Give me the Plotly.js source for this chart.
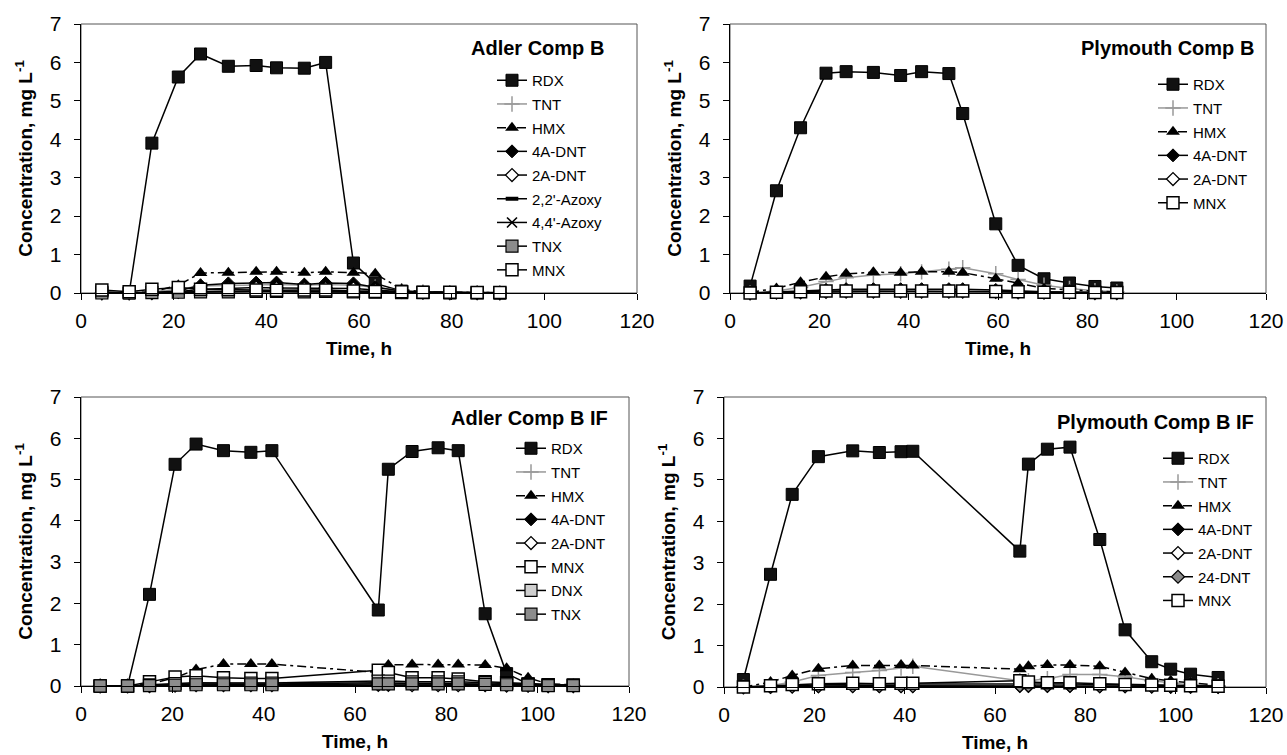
<!DOCTYPE html>
<html>
<head>
<meta charset="utf-8">
<script src="https://cdn.plot.ly/plotly-3.0.1.min.js"></script>
<style>html,body{margin:0;padding:0;background:#fff}#chart{width:1287px;height:755px}</style>
</head>
<body>
<div id="chart"></div>
<script>
// ---------------- DATA ----------------
const panelTitles = ["Adler Comp B", "Plymouth Comp B", "Adler Comp B IF", "Plymouth Comp B IF"];
const xTitle = "Time, h";
const yTitle = "Concentration, mg L<sup>-1</sup>";

// Panel 1: Adler Comp B
const t1 = [4.5, 10.4, 15.3, 21.0, 25.8, 31.8, 37.8, 42.2, 48.2, 52.8, 58.8, 63.5, 69.2, 73.8, 79.6, 85.5, 90.4];
const rdx1 = [0.03, 0.0, 3.9, 5.62, 6.22, 5.9, 5.92, 5.86, 5.85, 6.0, 0.78, 0.25, 0.05, 0.02, 0.01, 0.01, 0.0];
const tnt1 = [0.0, 0.0, 0.03, 0.1, 0.18, 0.2, 0.22, 0.22, 0.2, 0.22, 0.2, 0.15, 0.06, 0.03, 0.01, 0.01, 0.0];
const hmx1 = [0.0, 0.0, 0.03, 0.2, 0.52, 0.53, 0.55, 0.55, 0.53, 0.55, 0.53, 0.5, 0.1, 0.03, 0.02, 0.01, 0.01];
const a4dnt1 = [0.0, 0.0, 0.01, 0.05, 0.2, 0.25, 0.27, 0.27, 0.22, 0.26, 0.25, 0.15, 0.05, 0.02, 0.01, 0.0, 0.0];
const a2dnt1 = [0.0, 0.0, 0.0, 0.03, 0.1, 0.12, 0.14, 0.13, 0.12, 0.13, 0.12, 0.08, 0.03, 0.01, 0.0, 0.0, 0.0];
const azoxy22 = [0.0, 0.0, 0.0, 0.01, 0.04, 0.05, 0.05, 0.05, 0.05, 0.05, 0.05, 0.04, 0.02, 0.01, 0.0, 0.0, 0.0];
const azoxy44 = [0.0, 0.0, 0.0, 0.01, 0.03, 0.04, 0.04, 0.04, 0.03, 0.04, 0.04, 0.03, 0.01, 0.0, 0.0, 0.0, 0.0];
const tnx1 = [0.0, 0.0, 0.01, 0.02, 0.03, 0.03, 0.04, 0.04, 0.03, 0.04, 0.03, 0.02, 0.01, 0.01, 0.0, 0.0, 0.0];
const mnx1 = [0.08, 0.03, 0.1, 0.14, 0.1, 0.09, 0.08, 0.07, 0.08, 0.08, 0.05, 0.04, 0.03, 0.02, 0.02, 0.01, 0.01];

// Panel 2: Plymouth Comp B
const t2 = [4.5, 10.4, 15.8, 21.5, 26.0, 32.1, 38.2, 42.9, 49.0, 52.1, 59.5, 64.5, 70.3, 76.0, 81.7, 86.6];
const rdx2 = [0.18, 2.66, 4.3, 5.72, 5.76, 5.74, 5.66, 5.76, 5.71, 4.67, 1.8, 0.72, 0.37, 0.26, 0.17, 0.13];
const tnt2 = [0.0, 0.05, 0.15, 0.3, 0.4, 0.47, 0.5, 0.55, 0.62, 0.66, 0.5, 0.35, 0.2, 0.12, 0.06, 0.03];
const hmx2 = [0.02, 0.12, 0.28, 0.42, 0.5, 0.54, 0.53, 0.55, 0.55, 0.53, 0.37, 0.25, 0.12, 0.08, 0.05, 0.03];
const a4dnt2 = [0.0, 0.02, 0.05, 0.08, 0.1, 0.1, 0.1, 0.1, 0.1, 0.1, 0.08, 0.05, 0.03, 0.02, 0.01, 0.01];
const a2dnt2 = [0.0, 0.01, 0.02, 0.03, 0.04, 0.04, 0.04, 0.04, 0.04, 0.04, 0.03, 0.02, 0.01, 0.01, 0.0, 0.0];
const mnx2 = [0.0, 0.02, 0.03, 0.05, 0.05, 0.05, 0.05, 0.05, 0.05, 0.05, 0.04, 0.03, 0.02, 0.02, 0.01, 0.01];

// Panel 3: Adler Comp B IF
const t3 = [4.2, 10.2, 15.0, 20.6, 25.2, 31.2, 37.2, 41.8, 65.1, 67.3, 72.5, 78.2, 82.6, 88.5, 93.2, 97.9, 102.3, 107.8];
const rdx3 = [0.0, 0.0, 2.22, 5.37, 5.86, 5.7, 5.66, 5.7, 1.84, 5.25, 5.68, 5.77, 5.7, 1.75, 0.3, 0.05, 0.02, 0.02];
const tnt3 = [0.0, 0.0, 0.02, 0.05, 0.08, 0.08, 0.08, 0.08, 0.1, 0.1, 0.08, 0.08, 0.07, 0.05, 0.04, 0.02, 0.01, 0.01];
const hmx3 = [0.0, 0.0, 0.05, 0.2, 0.4, 0.53, 0.53, 0.53, 0.33, 0.51, 0.52, 0.52, 0.52, 0.51, 0.43, 0.2, 0.05, 0.03];
const a4dnt3 = [0.0, 0.0, 0.01, 0.03, 0.05, 0.05, 0.05, 0.05, 0.08, 0.07, 0.06, 0.06, 0.05, 0.04, 0.03, 0.02, 0.01, 0.01];
const a2dnt3 = [0.0, 0.0, 0.0, 0.01, 0.02, 0.02, 0.02, 0.02, 0.03, 0.03, 0.02, 0.02, 0.02, 0.02, 0.01, 0.01, 0.0, 0.0];
const mnx3 = [0.0, 0.0, 0.1, 0.22, 0.25, 0.2, 0.18, 0.18, 0.38, 0.33, 0.2, 0.2, 0.17, 0.1, 0.08, 0.05, 0.03, 0.02];
const dnx3 = [0.0, 0.0, 0.03, 0.06, 0.08, 0.07, 0.07, 0.07, 0.12, 0.12, 0.1, 0.1, 0.1, 0.08, 0.06, 0.04, 0.02, 0.02];
const tnx3 = [0.0, 0.0, 0.01, 0.02, 0.03, 0.03, 0.03, 0.03, 0.05, 0.05, 0.05, 0.05, 0.05, 0.04, 0.03, 0.02, 0.01, 0.01];

// Panel 4: Plymouth Comp B IF
const t4 = [4.3, 10.3, 15.1, 20.9, 28.5, 34.4, 39.2, 41.8, 65.5, 67.4, 71.6, 76.6, 83.2, 88.8, 94.7, 98.9, 103.3, 109.4];
const rdx4 = [0.18, 2.72, 4.65, 5.56, 5.7, 5.66, 5.68, 5.69, 3.28, 5.38, 5.74, 5.79, 3.56, 1.38, 0.61, 0.43, 0.31, 0.23];
const tnt4 = [0.0, 0.03, 0.12, 0.28, 0.35, 0.4, 0.46, 0.5, 0.15, 0.15, 0.2, 0.3, 0.3, 0.25, 0.15, 0.1, 0.05, 0.03];
const hmx4 = [0.0, 0.12, 0.28, 0.44, 0.52, 0.52, 0.53, 0.52, 0.43, 0.5, 0.53, 0.53, 0.5, 0.35, 0.2, 0.15, 0.1, 0.05];
const a4dnt4 = [0.0, 0.02, 0.04, 0.06, 0.07, 0.07, 0.07, 0.07, 0.08, 0.07, 0.07, 0.07, 0.06, 0.05, 0.04, 0.03, 0.02, 0.02];
const a2dnt4 = [0.0, 0.01, 0.02, 0.02, 0.03, 0.03, 0.03, 0.03, 0.03, 0.03, 0.03, 0.03, 0.02, 0.02, 0.02, 0.01, 0.01, 0.01];
const dnt24 = [0.0, 0.0, 0.01, 0.02, 0.02, 0.02, 0.02, 0.02, 0.03, 0.03, 0.03, 0.03, 0.02, 0.02, 0.01, 0.01, 0.01, 0.0];
const mnx4 = [0.0, 0.03, 0.06, 0.08, 0.09, 0.08, 0.09, 0.09, 0.15, 0.12, 0.1, 0.1, 0.08, 0.06, 0.05, 0.04, 0.03, 0.02];

const xTicks = [0, 20, 40, 60, 80, 100, 120];
const yTicks = [0, 1, 2, 3, 4, 5, 6, 7];

// ---------------- STYLES ----------------
const FONT = "Liberation Sans, Arial, sans-serif";
const BLK = {color: "#000", width: 1.5};
const STY = {
  "RDX": {line: BLK, marker: {symbol: "square", size: 12, color: "#111", line: {color: "#000", width: 1}}},
  "TNT": {line: {color: "#999", width: 1.5}, marker: {symbol: "cross-thin-open", size: 11, color: "#999", line: {color: "#999", width: 1.5}}},
  "HMX": {line: {color: "#000", width: 1.5, dash: "9px,4px,3px,4px"}, marker: {symbol: "triangle-up", size: 12, color: "#000", line: {color: "#000", width: 0}}},
  "4A-DNT": {line: BLK, marker: {symbol: "diamond", size: 10, color: "#000", line: {color: "#000", width: 1}}},
  "2A-DNT": {line: BLK, marker: {symbol: "diamond", size: 10, color: "#fff", line: {color: "#000", width: 1.3}}},
  "2,2'-Azoxy": {line: BLK, marker: {symbol: "line-ew-open", size: 9, color: "#000", line: {color: "#000", width: 4}}},
  "4,4'-Azoxy": {line: BLK, marker: {symbol: "x-thin-open", size: 10, color: "#000", line: {color: "#000", width: 1.6}}},
  "TNX": {line: BLK, marker: {symbol: "square", size: 12, color: "#8c8c8c", line: {color: "#000", width: 1.2}}},
  "MNX": {line: BLK, marker: {symbol: "square", size: 12, color: "#fff", line: {color: "#000", width: 1.5}}},
  "DNX": {line: BLK, marker: {symbol: "square", size: 12, color: "#cfcfcf", line: {color: "#000", width: 1.2}}},
  "24-DNT": {line: BLK, marker: {symbol: "diamond", size: 10, color: "#8c8c8c", line: {color: "#000", width: 1.2}}}
};

const panels = [
  {t: t1, series: [["RDX", rdx1], ["TNT", tnt1], ["HMX", hmx1], ["4A-DNT", a4dnt1], ["2A-DNT", a2dnt1], ["2,2'-Azoxy", azoxy22], ["4,4'-Azoxy", azoxy44], ["TNX", tnx1], ["MNX", mnx1]]},
  {t: t2, series: [["RDX", rdx2], ["TNT", tnt2], ["HMX", hmx2], ["4A-DNT", a4dnt2], ["2A-DNT", a2dnt2], ["MNX", mnx2]]},
  {t: t3, series: [["RDX", rdx3], ["TNT", tnt3], ["HMX", hmx3], ["4A-DNT", a4dnt3], ["2A-DNT", a2dnt3], ["MNX", mnx3], ["DNX", dnx3], ["TNX", tnx3]]},
  {t: t4, series: [["RDX", rdx4], ["TNT", tnt4], ["HMX", hmx4], ["4A-DNT", a4dnt4], ["2A-DNT", a2dnt4], ["24-DNT", dnt24], ["MNX", mnx4]]}
];

// ---------------- LAYOUT GEOMETRY (pixels) ----------------
const W = 1287, H = 755;
const boxes = [
  {l: 81, r: 637, t: 24, b: 293, legL: 492, legT: 64, titleR: 606, titleY: 48},
  {l: 730, r: 1266, t: 24, b: 293, legL: 1153, legT: 68, titleR: 1256, titleY: 48},
  {l: 81, r: 629, t: 397, b: 686, legL: 511, legT: 432, titleR: 610, titleY: 418},
  {l: 724, r: 1266, t: 397, b: 687, legL: 1158, legT: 442, titleR: 1256, titleY: 422}
];
const px = x => x / W;
const py = y => 1 - y / H;

const traces = [];
const layout = {
  width: W, height: H,
  margin: {l: 0, r: 0, t: 0, b: 0},
  paper_bgcolor: "#fff", plot_bgcolor: "#fff",
  font: {family: FONT, color: "#000"},
  annotations: [], shapes: []
};

panels.forEach((p, i) => {
  const n = i + 1;
  const xa = "xaxis" + (n === 1 ? "" : n), ya = "yaxis" + (n === 1 ? "" : n);
  const xr = "x" + (n === 1 ? "" : n), yr = "y" + (n === 1 ? "" : n);
  const lg = "legend" + (n === 1 ? "" : n);
  const b = boxes[i];
  p.series.forEach(([name, vals], k) => {
    const s = STY[name];
    traces.push({
      type: "scatter", mode: "lines+markers", name: name,
      x: p.t, y: vals, xaxis: xr, yaxis: yr,
      line: s.line, marker: s.marker, cliponaxis: false,
      legend: lg, legendgroup: "p" + n + "_" + k, showlegend: true
    });
  });
  layout[xa] = {
    domain: [px(b.l), px(b.r)], anchor: yr, range: [0, 120],
    tickvals: xTicks, ticks: "outside", ticklen: 6, tickcolor: "#000", tickwidth: 1,
    showline: true, linecolor: "#000", linewidth: 1.3, showgrid: false, zeroline: false,
    tickfont: {size: 21, family: FONT, color: "#000"}, ticklabelstandoff: 2,
    title: {text: "<b>" + xTitle + "</b>", font: {size: 19, family: FONT, color: "#000"}, standoff: 11}
  };
  layout[ya] = {
    domain: [py(b.b), py(b.t)], anchor: xr, range: [0, 7],
    tickvals: yTicks, ticks: "outside", ticklen: 6, tickcolor: "#000", tickwidth: 1,
    showline: true, linecolor: "#000", linewidth: 1.3, showgrid: false, zeroline: false,
    tickfont: {size: 21, family: FONT, color: "#000"}, ticklabelstandoff: 8,
    title: {text: "<b>" + yTitle + "</b>", font: {size: 19, family: FONT, color: "#000"}, standoff: 12}
  };
  layout[lg] = {
    x: px(b.legL), y: py(b.legT), xanchor: "left", yanchor: "top",
    xref: "paper", yref: "paper",
    bgcolor: "rgba(0,0,0,0)", borderwidth: 0,
    font: {size: 15, family: FONT, color: "#000"},
    traceorder: "grouped", tracegroupgap: 1.2
  };
  layout.shapes.push({
    type: "rect", xref: "paper", yref: "paper",
    x0: px(b.l), x1: px(b.r), y0: py(b.b), y1: py(b.t),
    line: {color: "#555", width: 1}, layer: "below"
  });
  layout.annotations.push({
    text: "<b>" + panelTitles[i] + "</b>", xref: "paper", yref: "paper",
    x: px(b.titleR), y: py(b.titleY), xanchor: "right", yanchor: "middle",
    showarrow: false, font: {size: 20, family: FONT, color: "#000"}
  });
});

Plotly.newPlot("chart", traces, layout, {staticPlot: true, displayModeBar: false});
</script>
</body>
</html>
